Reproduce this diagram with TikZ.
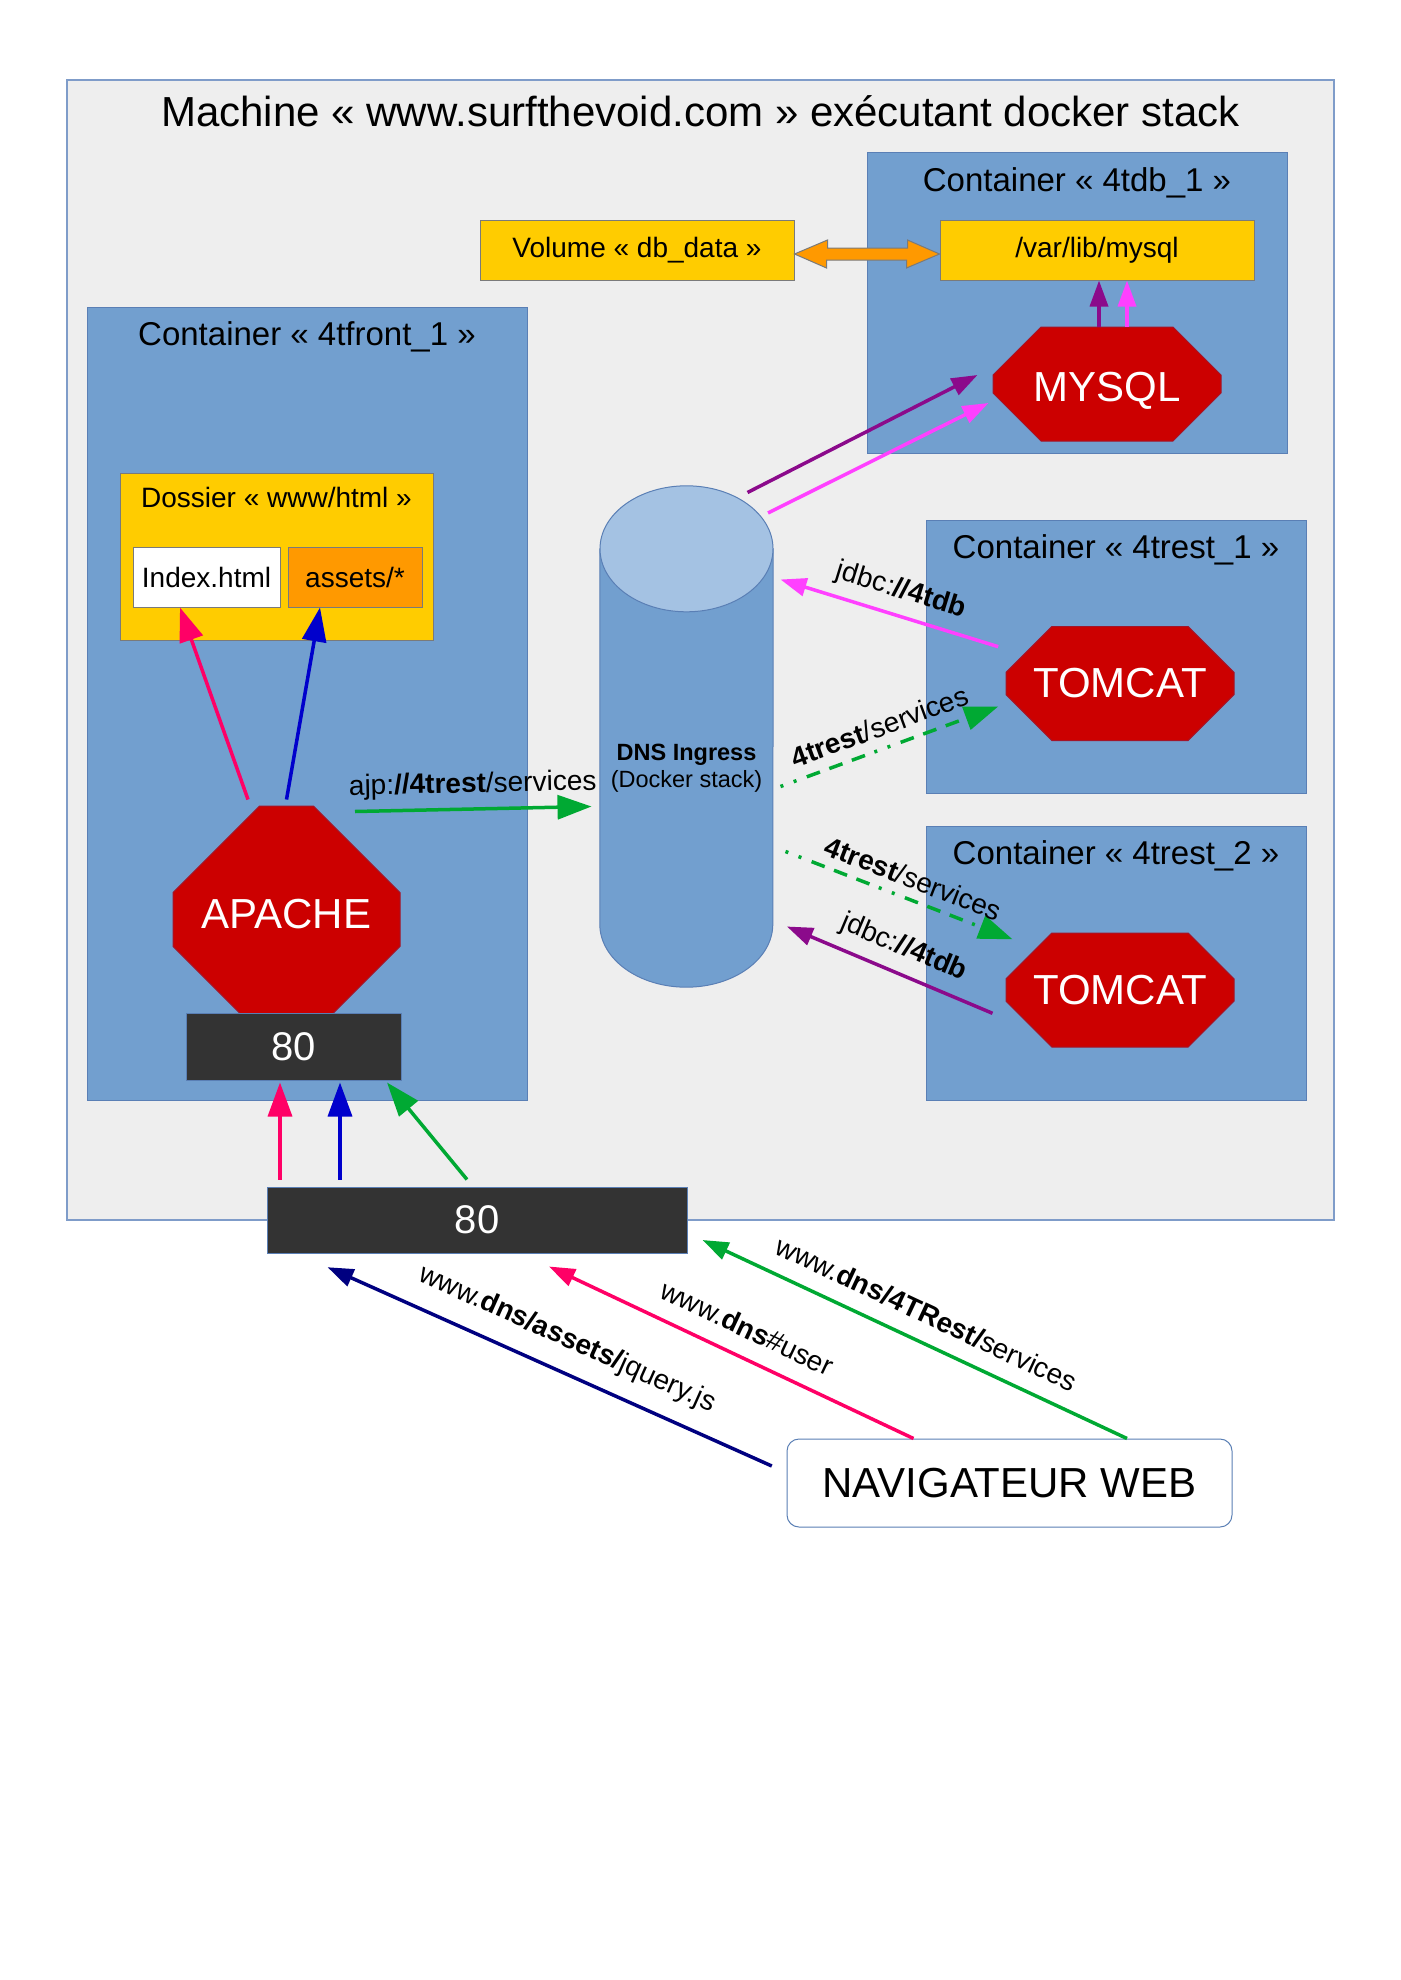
\documentclass[tikz,border=0pt]{standalone}
\usepackage{fontspec}
\setmainfont{Liberation Sans}
\usetikzlibrary{shapes.misc,arrows.meta,positioning}

\definecolor{machinegray}{HTML}{EEEEEE}
\definecolor{machineline}{HTML}{7F9CC9}
\definecolor{contblue}{HTML}{729FCF}
\definecolor{contline}{HTML}{5A7FB5}
\definecolor{dnstop}{HTML}{A4C2E3}
\definecolor{gold}{HTML}{FFCC00}
\definecolor{boxline}{HTML}{7A7A7A}
\definecolor{assetorange}{HTML}{FF9900}
\definecolor{serverred}{HTML}{CC0000}
\definecolor{redline}{HTML}{A3152A}
\definecolor{portgray}{HTML}{333333}
\definecolor{linkpink}{HTML}{FF0066}
\definecolor{linkblue}{HTML}{0000CC}
\definecolor{linkgreen}{HTML}{00A933}
\definecolor{linknavy}{HTML}{000080}
\definecolor{linkmagenta}{HTML}{FF40FF}
\definecolor{linkpurple}{HTML}{8B0A8B}

\newcommand{\pxfont}[1]{\fontsize{#1}{1.15\dimexpr#1pt\relax}\selectfont}

\begin{document}
\begin{tikzpicture}[
    x=1pt, y=-1pt,
    machine/.style={rectangle, draw=machineline, fill=machinegray, line width=1.2pt, inner sep=0pt},
    container/.style={rectangle, draw=contline, fill=contblue, line width=1pt, inner sep=0pt},
    folder/.style={rectangle, draw=boxline, fill=gold, line width=1pt, inner sep=0pt, font=\pxfont{28}},
    heading/.style={inner sep=0pt, font=\pxfont{33}},
    server/.style={chamfered rectangle, chamfered rectangle xsep=31pt, chamfered rectangle ysep=31pt, draw=redline, fill=serverred, text=white, line width=1pt, inner sep=0pt, minimum width=228pt, minimum height=114pt, font=\pxfont{42}},
    port/.style={rectangle, draw=contline, fill=portgray, text=white, line width=1pt, inner sep=0pt, font=\pxfont{40}},
    link/.style={-{Triangle[length=34pt,width=24pt]}, line width=3.5pt},
    thin link/.style={-{Triangle[length=26pt,width=18pt]}, line width=3.5pt},
    route/.style={link, dash pattern=on 3pt off 11pt on 3pt off 11pt on 14pt off 10pt on 14pt off 10pt on 14pt off 10pt},
    lbl/.style={sloped, inner sep=3pt, font=\pxfont{28}, text=black}
]
\path[fill=white] (0,0) rectangle (1400,1980);

% Machine
\node[machine, minimum width=1267pt, minimum height=1140pt] (machine) at (700.5,650) {};
\node[inner sep=0pt, font=\pxfont{42}, below=16pt of machine.north] (machine-title) {Machine « www.surfthevoid.com » exécutant docker stack};

% Container 4tdb_1
\node[container, minimum width=420pt, minimum height=300pt] (db-box) at (1077,303) {};
\node[heading, below=15pt of db-box.north] (db-title) {Container « 4tdb\_1 »};
\node[folder, minimum width=314pt, minimum height=60pt] (volume) at (637,250) {Volume « db\_data »};
\node[folder, minimum width=314pt, minimum height=60pt] (mysql-dir) at (1097,250) {/var/lib/mysql};
\node[server, text height=34pt, text depth=0pt] (mysql) at (1107,384) {MYSQL};
\draw[draw=boxline, fill=assetorange, line width=1pt] ([yshift=-4pt]volume.east) -- ++(33,-14) -- ++(0,8) -- ++(80,0) -- ++(0,-8)
    -- ([yshift=-4pt]mysql-dir.west) -- ++(-33,14) -- ++(0,-8) -- ++(-80,0) -- ++(0,8) -- cycle;

% Container 4tfront_1
\node[container, minimum width=440pt, minimum height=793pt] (front-box) at (307,703.5) {};
\node[heading, below=15pt of front-box.north] (front-title) {Container « 4tfront\_1 »};
\node[folder, minimum width=313pt, minimum height=167pt] (dossier) at (276.5,556.5) {};
\node[inner sep=0pt, font=\pxfont{28}, below=15pt of dossier.north] (dossier-title) {Dossier « www/html »};
\node[folder, fill=white, minimum width=147pt, minimum height=60pt] (index) at (206.5,577) {Index.html};
\node[folder, fill=assetorange, minimum width=134pt, minimum height=60pt, right=7pt of index] (assets) {assets/*};
\node[server, chamfered rectangle xsep=66pt, chamfered rectangle ysep=66pt, minimum width=227pt, minimum height=227pt, text depth=12pt] (apache) at (286.5,919.5) {APACHE};
\node[port, minimum width=215pt, minimum height=67pt] (port-in) at (293.5,1046.5) {80};

% Containers 4trest
\node[container, minimum width=380pt, minimum height=273pt] (rest1-box) at (1116,656.5) {};
\node[heading, below=15pt of rest1-box.north] (rest1-title) {Container « 4trest\_1 »};
\node[server] (tomcat1) at (1120,683.5) {TOMCAT};
\node[container, minimum width=380pt, minimum height=274pt] (rest2-box) at (1116,963) {};
\node[heading, below=15pt of rest2-box.north] (rest2-title) {Container « 4trest\_2 »};
\node[server] (tomcat2) at (1120,990) {TOMCAT};

% DNS ingress
\node[minimum width=173pt, minimum height=501pt, inner sep=0pt] (dns) at (686.5,736.5) {};
\draw[draw=contline, fill=contblue, line width=1pt] ([yshift=-63pt]dns.north west) -- ([yshift=63pt]dns.south west)
    arc[start angle=180, end angle=360, x radius=86.5pt, y radius=63pt] -- ([yshift=-63pt]dns.north east) -- cycle;
\draw[draw=contline, fill=dnstop, line width=1pt] ([yshift=-63pt]dns.north) ellipse[x radius=86.5pt, y radius=63pt];
\node[align=center, font=\pxfont{23.5}, below=4pt of dns.center] (dns-text) {\textbf{DNS Ingress}\\(Docker stack)};

% Ports and browser
\node[port, minimum width=420pt, minimum height=66pt] (port-out) at (477,1220) {80};
\node[rectangle, rounded corners=12pt, draw=contline, fill=white, line width=1pt, minimum width=445pt, minimum height=88pt, font=\pxfont{42}] (browser) at (1009.5,1483) {NAVIGATEUR WEB};

% Arrows
\draw[link, linkpink] ([shift={(-38.5pt,6pt)}]apache.north) -- ([xshift=-26.5pt]index.south);
\draw[link, linkblue] ([yshift=6pt]apache.north) -- ([xshift=-35pt]assets.south);
\draw[link, linkgreen] ([shift={(68.5pt,-6pt)}]apache.north) -- node[lbl, above=6pt] {ajp:\textbf{//4trest}/services} ([shift={(-95pt,-70pt)}]dns.center);

\draw[thin link, linkpurple] ([shift={(61pt,244pt)}]dns.center) -- ([shift={(-15pt,9pt)}]mysql.west);
\draw[thin link, linkmagenta] ([shift={(81.5pt,223.5pt)}]dns.center) -- ([shift={(-4pt,-19pt)}]mysql.west);
\draw[thin link, linkpurple] ([xshift=-8pt]mysql.north) -- ([xshift=2pt]mysql-dir.south);
\draw[thin link, linkmagenta] ([xshift=20pt]mysql.north) -- ([xshift=30pt]mysql-dir.south);

\draw[thin link, linkmagenta] ([shift={(-7.3pt,36.8pt)}]tomcat1.west) -- node[lbl, above=7pt, pos=0.48] {jdbc:\textbf{//4tdb}} ([shift={(94pt,157pt)}]dns.center);
\draw[route, linkgreen] ([shift={(94pt,-50pt)}]dns.center) -- node[lbl, above=7pt, pos=0.49] {\textbf{4trest}/services} ([shift={(-7.3pt,-23pt)}]tomcat1.west);
\draw[route, linkgreen] ([shift={(99pt,-115pt)}]dns.center) -- node[lbl, above=6pt, pos=0.53] {\textbf{4trest}/services} ([shift={(7pt,50.7pt)}]tomcat2.west);
\draw[thin link, linkpurple] ([shift={(-13pt,-23.3pt)}]tomcat2.west) -- node[lbl, above=8pt, pos=0.48] {jdbc:\textbf{//4tdb}} ([shift={(100.4pt,-190pt)}]dns.center);

\draw[link, linkpink] ([shift={(-197pt,7pt)}]port-out.north) -- ([shift={(-13.5pt,-2pt)}]port-in.south);
\draw[link, linkblue] ([shift={(-137pt,7pt)}]port-out.north) -- ([shift={(46.5pt,-2pt)}]port-in.south);
\draw[link, linkgreen] ([shift={(-10pt,7pt)}]port-out.north) -- ([shift={(93.5pt,-2pt)}]port-in.south);

\draw[thin link, linknavy] ([shift={(-14.7pt,17pt)}]browser.west) -- node[lbl, above=14pt, pos=0.49] {www.\textbf{dns/assets/}jquery.js} ([shift={(-149.5pt,-13.7pt)}]port-out.south);
\draw[thin link, linkpink] ([xshift=-96pt]browser.north) -- node[lbl, above=14pt, pos=0.49] {www.\textbf{dns}\#user} ([shift={(72pt,-13pt)}]port-out.south);
\draw[thin link, linkgreen] ([xshift=117.5pt]browser.north) -- node[lbl, above=13pt, pos=0.50] {www.\textbf{dns/4TRest/}services} ([shift={(15pt,-20pt)}]port-out.east);
\end{tikzpicture}
\end{document}
